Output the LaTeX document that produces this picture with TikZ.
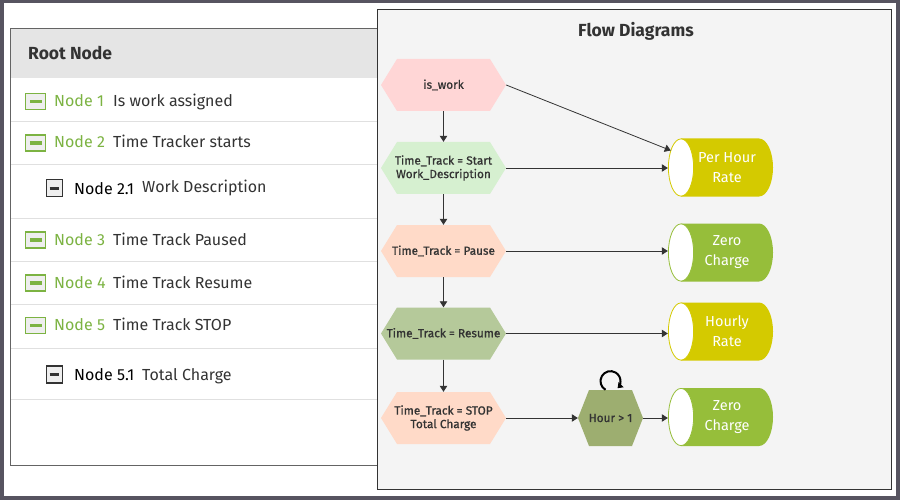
\documentclass[tikz,border=0pt]{standalone}
\usepackage{fontspec}
\setmainfont{Fira Sans}
\newfontfamily\hexfont[FakeBold=0.9]{Fira Sans}
\usetikzlibrary{arrows.meta}
\definecolor{outerdark}{RGB}{87,84,96}
\definecolor{panelborder}{RGB}{100,100,100}
\definecolor{headerbg}{RGB}{229,229,229}
\definecolor{sepline}{RGB}{224,224,224}
\definecolor{greenlbl}{RGB}{124,179,66}
\definecolor{iconfill}{RGB}{238,238,238}
\definecolor{textdark}{RGB}{51,51,51}
\definecolor{rightbg}{RGB}{244,244,244}
\definecolor{rightborder}{RGB}{51,51,51}
\definecolor{hpink}{RGB}{255,214,214}
\definecolor{hlgreen}{RGB}{214,240,208}
\definecolor{hpeach}{RGB}{255,218,200}
\definecolor{hsage}{RGB}{181,201,154}
\definecolor{holive}{RGB}{157,174,112}
\definecolor{cyellow}{RGB}{212,202,0}
\definecolor{cgreen}{RGB}{150,190,58}
\tikzset{
  rowtext/.style={anchor=west, inner sep=0pt, text height=11pt, text depth=0pt,
    font=\fontsize{16}{18}\selectfont, text=textdark},
  rowlabel/.style={rowtext, text=greenlbl},
  sublabel/.style={rowtext, text=black},
  gicon/.style={draw=greenlbl, fill=iconfill, line width=1.3pt, minimum width=20pt,
    minimum height=16pt, inner sep=0pt,
    path picture={\draw[greenlbl, line width=3.2pt]
      ([xshift=-5.8pt]path picture bounding box.center) --
      ([xshift=5.8pt]path picture bounding box.center);}},
  bicon/.style={draw=textdark, fill=iconfill, line width=1.2pt, minimum width=16pt,
    minimum height=17pt, inner sep=0pt,
    path picture={\draw[textdark, line width=3.2pt]
      ([xshift=-4.5pt]path picture bounding box.center) --
      ([xshift=4.5pt]path picture bounding box.center);}},
  hexa/.style n args={4}{minimum width=#2, minimum height=#3, inner sep=0pt,
    align=center, text=textdark, fill=rightbg,
    font=\hexfont\fontsize{11.8}{13.5}\selectfont,
    path picture={\fill[#1]
      (path picture bounding box.west) --
      ([xshift=#4]path picture bounding box.north west) --
      ([xshift=-#4]path picture bounding box.north east) --
      (path picture bounding box.east) --
      ([xshift=-#4]path picture bounding box.south east) --
      ([xshift=#4]path picture bounding box.south west) -- cycle;}},
  cyl/.style={minimum width=105pt, minimum height=58pt, inner sep=0pt, fill=rightbg,
    align=center, text=white, font=\fontsize{14.5}{20}\selectfont,
    path picture={
      \fill[#1] ([xshift=13pt]path picture bounding box.north west) --
        ([xshift=-14pt]path picture bounding box.north east)
        arc[start angle=90, end angle=-90, x radius=14pt, y radius=29pt] --
        ([xshift=13pt]path picture bounding box.south west) -- cycle;
      \filldraw[fill=white, draw=#1, line width=0.8pt]
        ([xshift=13pt]path picture bounding box.west)
        ellipse[x radius=12.6pt, y radius=28.6pt];}},
  conn/.style={draw=textdark, line width=0.8pt, -{Triangle[length=6pt,width=7.5pt]}},
}
\begin{document}
\begin{tikzpicture}[x=1pt,y=-1pt]
\useasboundingbox (0,0) rectangle (900,500);
\fill[outerdark] (0,0) rectangle (900,500);
\fill[white] (3.5,3.5) rectangle (895.5,496);

% left tree panel
\filldraw[fill=white, draw=panelborder, line width=1pt] (10.5,28.5) rectangle (420,465.5);
\fill[headerbg] (11,29) rectangle (420,78.5);
\foreach \yy in {122,165,218,261,304,348,399}
  \draw[sepline, line width=1pt] (11,\yy) -- (420,\yy);
\node[anchor=west, inner sep=0pt, text height=12pt, text depth=0pt,
  font=\bfseries\fontsize{17.5}{20}\selectfont, text=textdark] (root) at (28,54) {Root Node};

\node[gicon] (i1) at (35.7,101.5) {};
\node[rowlabel] (l1) at (54,101) {Node 1};
\node[rowtext] (d1) at (113,101) {Is work assigned};

\node[gicon] (i2) at (35.7,143) {};
\node[rowlabel] (l2) at (54,142.5) {Node 2};
\node[rowtext] (d2) at (113,142.5) {Time Tracker starts};

\node[bicon] (i21) at (54.2,188.3) {};
\node[sublabel] (l21) at (74,189) {Node 2.1};
\node[rowtext] (d21) at (142,187) {Work Description};

\node[gicon] (i3) at (35.7,240) {};
\node[rowlabel] (l3) at (54,239.5) {Node 3};
\node[rowtext] (d3) at (113,239.5) {Time Track Paused};

\node[gicon] (i4) at (35.7,283) {};
\node[rowlabel] (l4) at (54,282.5) {Node 4};
\node[rowtext] (d4) at (113,282.5) {Time Track Resume};

\node[gicon] (i5) at (35.7,325.5) {};
\node[rowlabel] (l5) at (54,325) {Node 5};
\node[rowtext] (d5) at (113,325) {Time Track STOP};

\node[bicon] (i51) at (54.2,374.5) {};
\node[sublabel] (l51) at (74,374.5) {Node 5.1};
\node[rowtext] (d51) at (142,374.5) {Total Charge};

% right flow panel
\filldraw[fill=rightbg, draw=rightborder, line width=1pt] (377,10) rectangle (891.5,489);
\node[font=\bfseries\fontsize{17.5}{20}\selectfont, text=textdark] (title) at (636,31) {Flow Diagrams};

\node[hexa={hpink}{125pt}{52pt}{16pt}] (iswork) at (443.5,85) {is\_work};
\node[hexa={hlgreen}{125pt}{52pt}{16pt}] (start) at (443.5,168) {Time\_Track = Start\\Work\_Description};
\node[hexa={hpeach}{125pt}{52pt}{16pt}] (pause) at (443.5,251) {Time\_Track = Pause};
\node[hexa={hsage}{125pt}{52pt}{16pt}] (resume) at (443.5,333.5) {Time\_Track = Resume};
\node[hexa={hpeach}{125pt}{52pt}{16pt}] (stop) at (443.5,418) {Time\_Track = STOP\\Total Charge};
\node[hexa={holive}{65pt}{56pt}{11pt}] (hour) at (610.5,418) {Hour > 1};

\node[cyl=cyellow] (phr) at (720.5,167.5) {\hspace*{13pt}Per Hour\\\hspace*{13pt}Rate};
\node[cyl=cgreen] (zc1) at (720.5,252.5) {\hspace*{13pt}Zero\\\hspace*{13pt}Charge};
\node[cyl=cyellow] (hr) at (720.5,331.5) {\hspace*{13pt}Hourly\\\hspace*{13pt}Rate};
\node[cyl=cgreen] (zc2) at (720.5,417) {\hspace*{13pt}Zero\\\hspace*{13pt}Charge};

% connectors
\draw[conn] (iswork.south) -- (start.north);
\draw[conn] (start.south) -- (pause.north);
\draw[conn] (pause.south) -- (resume.north);
\draw[conn] (resume.south) -- (stop.north);
\draw[conn] (iswork.east) -- ([xshift=3pt,yshift=17pt]phr.west);
\draw[conn] (start.east) -- (start.east -| phr.west);
\draw[conn] (pause.east) -- (pause.east -| zc1.west);
\draw[conn] (resume.east) -- (resume.east -| hr.west);
\draw[conn] (stop.east) -- (hour.west);
\draw[conn] (hour.east) -- (hour.east -| zc2.west);
\draw[black, line width=2pt, -{Triangle[length=5pt,width=7pt]}]
  ([xshift=-5pt]hour.north) arc[start angle=120, end angle=405, radius=10];
\end{tikzpicture}
\end{document}
